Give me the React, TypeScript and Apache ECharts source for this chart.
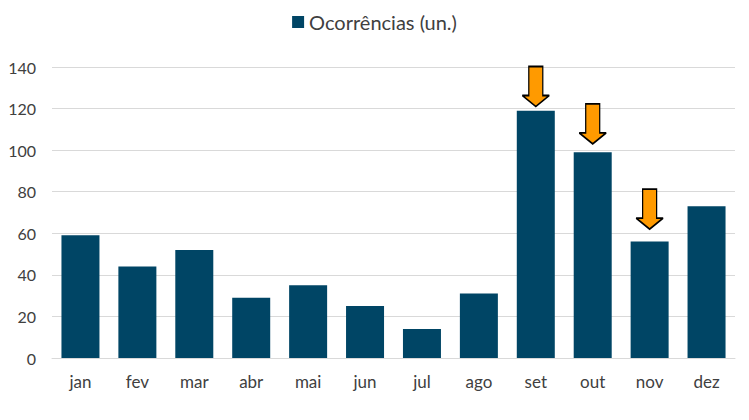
import React, { useEffect, useRef } from "react";
import * as echarts from "echarts";

const categories = ["jan", "fev", "mar", "abr", "mai", "jun", "jul", "ago", "set", "out", "nov", "dez"];
const values = [59, 44, 52, 29, 35, 25, 14, 31, 119, 99, 56, 73];
const arrowCats = ["set", "out", "nov"];
const arrowTips = [121, 103, 62];
const seriesName = "Ocorrências (un.)";

const arrowPath = "path://M6.5,0 H20.5 V29 H27 L13.5,40 L0,29 H6.5 Z";

export default function App() {
  const ref = useRef<HTMLDivElement>(null);
  useEffect(() => {
    if (!ref.current) return;
    const chart = echarts.init(ref.current, undefined, { renderer: "svg" });
    const font = "Lato, 'Open Sans', sans-serif";
    chart.setOption({
      animation: false,
      legend: {
        top: 7,
        left: "center",
        itemWidth: 12,
        itemHeight: 12,
        itemGap: 6,
        icon: "rect",
        textStyle: { fontFamily: font, fontSize: 20, color: "#404040" },
        data: [seriesName],
      },
      grid: { left: 52, right: 14, top: 67, bottom: 62, containLabel: false },
      xAxis: {
        type: "category",
        data: categories,
        axisLine: { lineStyle: { color: "#d9d9d9", width: 1 } },
        axisTick: { show: false },
        axisLabel: { fontFamily: font, fontSize: 17, color: "#404040", margin: 15 },
      },
      yAxis: {
        type: "value",
        min: 0,
        max: 140,
        interval: 20,
        axisLine: { show: false },
        axisTick: { show: false },
        splitLine: { lineStyle: { color: "#d9d9d9", width: 1 } },
        axisLabel: { fontFamily: font, fontSize: 16, color: "#404040", margin: 16 },
      },
      series: [
        {
          name: seriesName,
          type: "bar",
          data: values,
          barWidth: 38,
          itemStyle: { color: "#004565" },
          markPoint: {
            symbol: arrowPath,
            symbolSize: [27, 40],
            symbolOffset: [0, -20],
            symbolKeepAspect: false,
            label: { show: false },
            itemStyle: { color: "#FF9A00", borderColor: "#000", borderWidth: 1.5 },
            data: arrowCats.map((c, i) => ({ coord: [c, arrowTips[i]] })),
          },
        },
      ],
    });
    return () => chart.dispose();
  }, []);
  return (
    <div
      ref={ref}
      style={{ position: "fixed", left: 0, top: 0, width: 749, height: 420, background: "#fff" }}
    />
  );
}
